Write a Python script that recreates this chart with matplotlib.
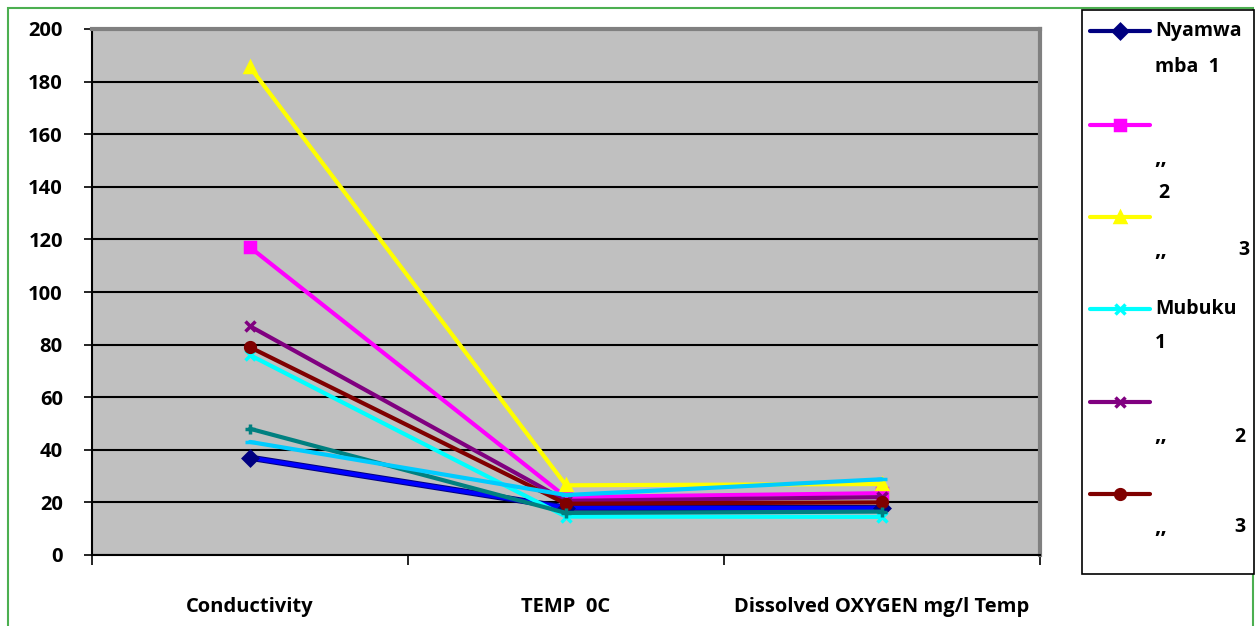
import matplotlib.pyplot as plt
from matplotlib.lines import Line2D
from matplotlib.patches import Rectangle

plt.rcParams['font.family'] = ['Open Sans', 'DejaVu Sans']
plt.rcParams['font.weight'] = 'bold'

categories = ["Conductivity", "TEMP  0C", "Dissolved OXYGEN mg/l Temp"]

nyamwamba_1 = [37, 18, 17.8]
nyamwamba_2 = [117, 22, 23.5]
nyamwamba_3 = [185.5, 26.5, 27]
mubuku_1 = [76, 14.6, 14.5]
mubuku_2 = [87, 20.6, 22]
mubuku_3 = [79, 19.5, 20]
site_7 = [48, 16, 16.5]
site_8 = [43, 22.8, 28.8]

series = [
    (nyamwamba_1, '#0000FF', 'D', '#000080'),
    (nyamwamba_2, '#FF00FF', 's', '#FF00FF'),
    (nyamwamba_3, '#FFFF00', '^', '#FFFF00'),
    (mubuku_1, '#00FFFF', 'x', '#00FFFF'),
    (mubuku_2, '#800080', 'x', '#800080'),
    (mubuku_3, '#800000', 'o', '#800000'),
    (site_7, '#008080', '+', '#008080'),
    (site_8, '#00CCFF', '_', '#00CCFF'),
]

fig = plt.figure(figsize=(12.55, 6.26), dpi=100)
W, H = 1255, 626
ax = fig.add_axes([92 / W, 1 - 555 / H, (1040 - 92) / W, (555 - 29) / H])
ax.set_facecolor('#C0C0C0')

x = [0.5, 1.5, 2.5]
draw_order = [6, 7, 3, 0, 5, 4, 1, 2]
for i in draw_order:
    vals, col, mk, mec = series[i]
    if i == 0:
        # navy edge under the blue line
        ax.plot(x, vals, color='#000080', lw=4.5, solid_capstyle='round', zorder=3 + i)
    ax.plot(x, vals, color=col, lw=3, marker=mk, markersize=7,
            markerfacecolor=mec, markeredgecolor=mec, markeredgewidth=2.5,
            solid_capstyle='round', zorder=3 + i)

ax.set_xlim(0, 3)
ax.set_ylim(0, 200)
ax.set_yticks(range(0, 201, 20))
ax.set_yticklabels([str(v) for v in range(0, 201, 20)], fontsize=14.5, fontweight='bold')
ax.yaxis.grid(True, color='black', lw=1.5)
ax.set_axisbelow(True)
ax.set_xticks([0, 1, 2, 3])
ax.set_xticklabels([])
ax.set_xticks(x, minor=True)
ax.set_xticklabels(categories, minor=True, fontsize=14.5, fontweight='bold')
ax.tick_params(axis='x', which='minor', length=0, pad=30)
ax.tick_params(axis='x', which='major', length=7, width=1.2, direction='out')
ax.tick_params(axis='y', length=6, width=1.2, direction='out', pad=15)
ax.spines['left'].set_linewidth(1.5)
ax.spines['bottom'].set_linewidth(1.5)
ax.spines['top'].set_color('#808080')
ax.spines['top'].set_linewidth(3)
ax.spines['right'].set_color('#808080')
ax.spines['right'].set_linewidth(3)

# green outer frame
fig.patches.append(Rectangle((8 / W, -0.02), (1253 - 8) / W, 1 - 8 / H + 0.02,
                             transform=fig.transFigure, fill=False,
                             edgecolor='#4CAF50', lw=1.5))

# legend box
fig.patches.append(Rectangle((1082 / W, 1 - 574 / H), (1254 - 1082) / W, (574 - 10) / H,
                             transform=fig.transFigure, fill=True, facecolor='white',
                             edgecolor='black', lw=1.2, zorder=1))

legend_y = [31, 125, 217, 309, 402, 494]
for k, ly in enumerate(legend_y):
    vals, col, mk, mec = series[k]
    lc = '#000080' if k == 0 else col
    fig.add_artist(Line2D([1090 / W, 1150 / W], [1 - ly / H, 1 - ly / H],
                          transform=fig.transFigure, color=lc, lw=3,
                          solid_capstyle='round', zorder=3))
    fig.add_artist(Line2D([1120 / W], [1 - ly / H], transform=fig.transFigure,
                          marker=mk, markersize=7, markerfacecolor=lc,
                          markeredgecolor=lc, markeredgewidth=2.5, zorder=4))

legend_texts = [
    ("Nyamwa", 1155, 31, 14), ("mba  1", 1155, 67, 14),
    (",,", 1154, 158, 16), ("2", 1158, 193, 14),
    (",,", 1154, 251, 16), ("3", 1238, 250, 14),
    ("Mubuku", 1155, 309, 14), ("1", 1155, 343, 14),
    (",,", 1154, 436, 16), ("2", 1234, 437, 14),
    (",,", 1154, 528, 16), ("3", 1234, 527, 14),
]
for t, tx, ty, fs in legend_texts:
    fig.text(tx / W, 1 - ty / H, t, fontsize=fs, fontweight='bold',
             va='center', ha='left', zorder=5)

fig.savefig('out.png', dpi=100)
